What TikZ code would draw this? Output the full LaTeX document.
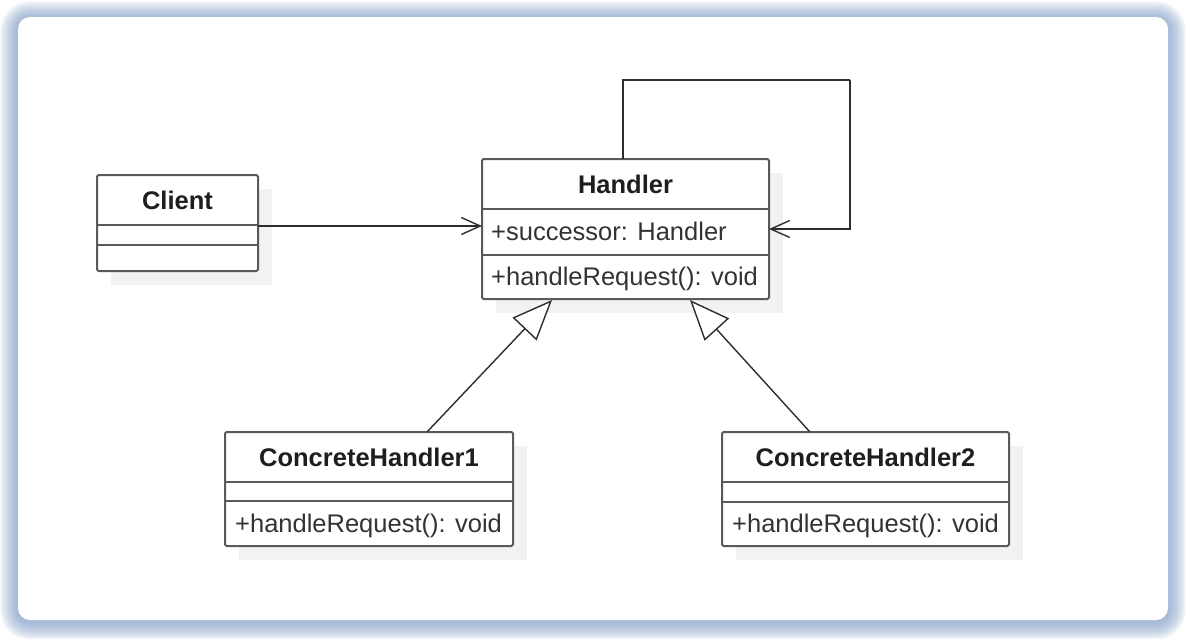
\documentclass[tikz,border=0pt]{standalone}
\usepackage{fontspec}
\setmainfont{Liberation Sans}
\usetikzlibrary{arrows.meta,calc}
\definecolor{boxline}{HTML}{5A5A5A}
\definecolor{conn}{HTML}{2E2E2E}
\definecolor{txt}{HTML}{333333}
\definecolor{ttl}{HTML}{1E1E1E}
\definecolor{shadowgrey}{HTML}{F2F2F2}
\definecolor{cardshadow}{HTML}{7E9CC8}
\tikzset{
  classbox/.style={draw=boxline, line width=2pt, fill=white, rounded corners=1.5pt,
    inner sep=0pt, outer sep=0pt, anchor=north west},
  divider/.style={draw=boxline, line width=2pt},
  boxshadow/.style={fill=shadowgrey},
  titletext/.style={font=\fontsize{25.5}{30}\selectfont\bfseries, text=ttl, anchor=base, inner sep=0pt},
  membertext/.style={font=\fontsize{25.5}{30}\selectfont, text=txt, anchor=base west, inner sep=0pt},
  assoc/.style={draw=conn, line width=1.4pt, -{Straight Barb[length=19pt,width=17pt]}},
  inherit/.style={draw=conn, line width=1.4pt, -{Triangle[length=40pt,width=33pt,fill=white]}}
}
\begin{document}
\begin{tikzpicture}[x=1pt,y=-1pt]
\useasboundingbox (0,0) rectangle (1186,638);
\fill[white] (0,0) rectangle (1186,638);
% card shadow
\foreach \i [evaluate=\i as \r using 12+\i] in {1,...,18} {
  \fill[cardshadow, opacity=0.055, rounded corners=\r pt] (18-\i,19-\i) rectangle (1168+\i,622+\i);
}
\fill[white, rounded corners=12pt] (18,17) rectangle (1168,620);

% shadows of boxes
\fill[boxshadow] (111,189) rectangle (272,285);
\fill[boxshadow] (496,173) rectangle (783,313);
\fill[boxshadow] (239,446) rectangle (527,560);
\fill[boxshadow] (736,446) rectangle (1023,560);

% Client
\node[classbox, minimum width=161pt, minimum height=96pt] (client) at (97,175) {};
\draw[divider] ($(client.north west)+(0,50)$) -- ($(client.north east)+(0,50)$);
\draw[divider] ($(client.north west)+(0,70)$) -- ($(client.north east)+(0,70)$);
\node[titletext] (clientname) at ($(client.north)+(0,34)$) {Client};

% Handler
\node[classbox, minimum width=287pt, minimum height=140pt] (handler) at (482,159) {};
\draw[divider] ($(handler.north west)+(0,50)$) -- ($(handler.north east)+(0,50)$);
\draw[divider] ($(handler.north west)+(0,96)$) -- ($(handler.north east)+(0,96)$);
\node[titletext] (handlername) at ($(handler.north)+(0,34)$) {Handler};
\node[membertext] (handlerattr) at ($(handler.north west)+(9,81)$) {+successor: Handler};
\node[membertext] (handlerop) at ($(handler.north west)+(9,126)$) {+handleRequest(): void};

% ConcreteHandler1
\node[classbox, minimum width=288pt, minimum height=114pt] (ch1) at (225,432) {};
\draw[divider] ($(ch1.north west)+(0,50)$) -- ($(ch1.north east)+(0,50)$);
\draw[divider] ($(ch1.north west)+(0,69)$) -- ($(ch1.north east)+(0,69)$);
\node[titletext] (ch1name) at ($(ch1.north)+(0,34)$) {ConcreteHandler1};
\node[membertext] (ch1op) at ($(ch1.north west)+(10,100)$) {+handleRequest(): void};

% ConcreteHandler2
\node[classbox, minimum width=287pt, minimum height=114pt] (ch2) at (722,432) {};
\draw[divider] ($(ch2.north west)+(0,50)$) -- ($(ch2.north east)+(0,50)$);
\draw[divider] ($(ch2.north west)+(0,70)$) -- ($(ch2.north east)+(0,70)$);
\node[titletext] (ch2name) at ($(ch2.north)+(0,34)$) {ConcreteHandler2};
\node[membertext] (ch2op) at ($(ch2.north west)+(10,100)$) {+handleRequest(): void};

% connectors
\coordinate (ca) at ($(client.north east)+(0,51)$);
\draw[assoc] (ca) -- (ca -| handler.west);

\coordinate (hs) at ($(handler.north west)+(141,0)$);
\coordinate (lt) at (850,80);
\coordinate (he) at ($(handler.north east)+(0,70)$);
\draw[draw=conn, line width=1.4pt] (hs) |- (lt);
\draw[assoc] (lt) |- (he);

\draw[inherit] ($(ch1.north west)+(202,0)$) -- ($(handler.south west)+(70,1)$);
\draw[inherit] ($(ch2.north west)+(88,0)$) -- ($(handler.south west)+(208,1)$);
\end{tikzpicture}
\end{document}
